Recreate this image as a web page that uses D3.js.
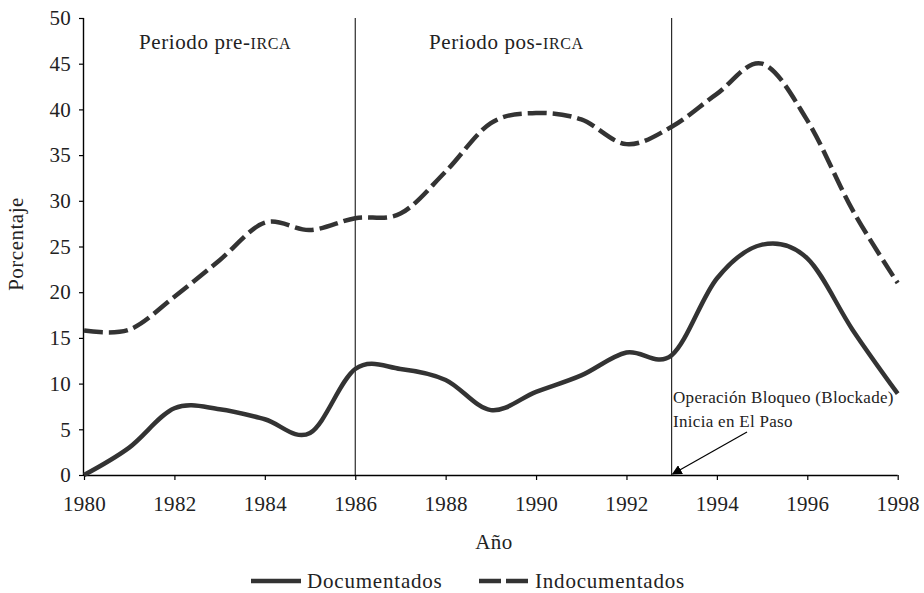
<!DOCTYPE html>
<html>
<head>
<meta charset="utf-8">
<script src="https://cdn.jsdelivr.net/npm/d3@7"></script>
<style>
  body { margin: 0; background: #FFFFFF; }
  svg { display: block; }
</style>
</head>
<body>
<svg></svg>
<script>
//--Data
var years = [1980, 1981, 1982, 1983, 1984, 1985, 1986, 1987, 1988, 1989,
             1990, 1991, 1992, 1993, 1994, 1995, 1996, 1997, 1998];
var documentados = [0, 3.0, 7.3, 7.2, 6.1, 4.6, 11.6, 11.6, 10.4, 7.1,
                    9.1, 10.9, 13.4, 13.1, 21.5, 25.2, 23.7, 15.9, 8.9];
var indocumentados = [15.8, 15.9, 19.5, 23.5, 27.6, 26.8, 28.1, 28.6, 33.2, 38.5,
                      39.6, 38.9, 36.2, 38.1, 41.7, 45.0, 38.8, 29.0, 21.0];
var yTicks = [0, 5, 10, 15, 20, 25, 30, 35, 40, 45, 50];
var xTicks = [1980, 1982, 1984, 1986, 1988, 1990, 1992, 1994, 1996, 1998];
var periodBreaks = [1986, 1993];
var seriesNames = ["Documentados", "Indocumentados"];

//Shared info
var canvas = {
  width: 924,
  height: 593,
  left: 84,
  right: 897.7,
  top: 18,
  bottom: 475,
  font: "'Liberation Serif', 'DejaVu Serif', serif",
  ink: "#333333",
  text: "#222222"
};
canvas.x = d3.scaleLinear().domain([1980, 1998]).range([canvas.left, canvas.right]);
canvas.y = d3.scaleLinear().domain([0, 50]).range([canvas.bottom, canvas.top]);

let root = d3
  .select("svg")
  .attr("width", canvas.width)
  .attr("height", canvas.height)
  .style("font-family", canvas.font);

root
  .append("defs")
  .append("marker")
  .attr("id", "arrow")
  .attr("viewBox", "0 0 10 10")
  .attr("refX", 9)
  .attr("refY", 5)
  .attr("markerWidth", 10)
  .attr("markerHeight", 10)
  .attr("markerUnits", "userSpaceOnUse")
  .attr("orient", "auto")
  .append("path")
  .attr("d", "M0,0 L10,5 L0,10 z")
  .attr("fill", "#000");

//--Period separators
root
  .append("g")
  .selectAll("line")
  .data(periodBreaks)
  .enter()
  .append("line")
  .attr("x1", d => canvas.x(d))
  .attr("x2", d => canvas.x(d))
  .attr("y1", canvas.top)
  .attr("y2", canvas.bottom)
  .attr("stroke", "#000")
  .attr("stroke-width", 1);

//--Axes
let yAxis = root
  .append("g")
  .attr("transform", `translate(${canvas.left},0)`)
  .call(d3.axisLeft(canvas.y).tickValues(yTicks).tickSize(5).tickPadding(8));
let xAxis = root
  .append("g")
  .attr("transform", `translate(0,${canvas.bottom})`)
  .call(d3.axisBottom(canvas.x).tickValues(xTicks).tickFormat(d3.format("d")).tickSize(5).tickPadding(16));
[xAxis, yAxis].forEach(ax => {
  ax.select(".domain").attr("stroke", "#000").attr("stroke-width", 1.4);
  ax.selectAll(".tick line").attr("stroke", "#000").attr("stroke-width", 1.2);
  ax.selectAll("text")
    .attr("fill", canvas.text)
    .style("font-family", canvas.font)
    .style("font-size", "21px")
    .style("letter-spacing", "0.3px");
});
yAxis.select(".domain").attr("d", `M-0.5,${canvas.bottom}V${canvas.top}`);
xAxis.select(".domain").attr("d", `M${canvas.left},0.5H${canvas.right}`);

//--Lines
let lineGen = d3
  .line()
  .x((d, i) => canvas.x(years[i]))
  .y(d => canvas.y(d))
  .curve(d3.curveCardinal.tension(0));

root
  .append("path")
  .datum(documentados)
  .attr("d", lineGen)
  .attr("fill", "none")
  .attr("stroke", canvas.ink)
  .attr("stroke-width", 4.5)
  .attr("stroke-linejoin", "round");
root
  .append("path")
  .datum(indocumentados)
  .attr("d", lineGen)
  .attr("fill", "none")
  .attr("stroke", canvas.ink)
  .attr("stroke-width", 4.5)
  .attr("stroke-dasharray", "19,6");

//--Period labels
let periods = root
  .append("g")
  .attr("fill", canvas.text)
  .style("font-size", "21px")
  .style("letter-spacing", "0.6px");
let pre = periods.append("text").attr("x", 139).attr("y", 49);
pre.append("tspan").text("Periodo pre-");
pre.append("tspan").style("font-size", "16px").text("IRCA");
let pos = periods.append("text").attr("x", 429).attr("y", 49);
pos.append("tspan").text("Periodo pos-");
pos.append("tspan").style("font-size", "16px").text("IRCA");

//--Annotation
let note = root
  .append("g")
  .attr("fill", canvas.text)
  .style("font-size", "17px")
  .style("letter-spacing", "0.3px");
note.append("text").attr("x", 673).attr("y", 403).text("Operación Bloqueo (Blockade)");
note.append("text").attr("x", 673).attr("y", 427).text("Inicia en El Paso");
root
  .append("line")
  .attr("x1", 747)
  .attr("y1", 432)
  .attr("x2", canvas.x(1993) + 1)
  .attr("y2", canvas.bottom - 1)
  .attr("stroke", "#000")
  .attr("stroke-width", 1.2)
  .attr("marker-end", "url(#arrow)");

//--Axis titles
root
  .append("text")
  .attr("transform", "translate(23,244) rotate(-90)")
  .attr("text-anchor", "middle")
  .attr("fill", canvas.text)
  .style("font-size", "21px")
  .style("letter-spacing", "0.5px")
  .text("Porcentaje");
root
  .append("text")
  .attr("x", 494)
  .attr("y", 549)
  .attr("text-anchor", "middle")
  .attr("fill", canvas.text)
  .style("font-size", "21px")
  .style("letter-spacing", "0.5px")
  .text("Año");

//--Legend
let legend = root
  .append("g")
  .style("font-size", "21px")
  .style("letter-spacing", "0.8px")
  .attr("fill", canvas.text);
let legendItems = [
  { name: seriesNames[0], x: 251, dash: null },
  { name: seriesNames[1], x: 479, dash: "22,5" }
];
legendItems.forEach(item => {
  legend
    .append("line")
    .attr("x1", item.x)
    .attr("x2", item.x + 50)
    .attr("y1", 581)
    .attr("y2", 581)
    .attr("stroke", canvas.ink)
    .attr("stroke-width", 4.5)
    .attr("stroke-dasharray", item.dash);
  legend
    .append("text")
    .attr("x", item.x + 56)
    .attr("y", 588)
    .text(item.name);
});
</script>
</body>
</html>
